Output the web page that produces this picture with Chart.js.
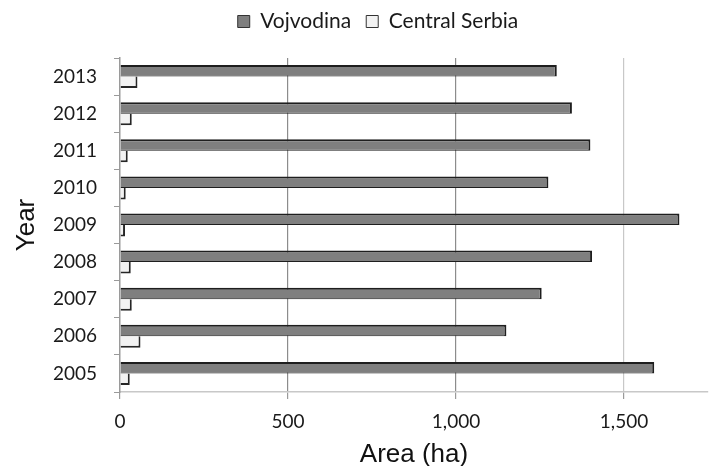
<!DOCTYPE html>
<html>
<head>
<meta charset="utf-8">
<script src="https://cdn.jsdelivr.net/npm/chart.js@4/dist/chart.umd.min.js"></script>
<style>
  html, body { margin: 0; padding: 0; background: #ffffff; }
  #wrap { width: 716px; height: 466px; position: relative; }
</style>
</head>
<body>
<div id="wrap"><canvas id="c" width="716" height="466"></canvas></div>
<script>
const years = ['2005', '2006', '2007', '2008', '2009', '2010', '2011', '2012', '2013'];
const vojvodina = [1590, 1150, 1255, 1405, 1665, 1275, 1400, 1345, 1300];
const centralSerbia = [29, 61, 35, 32, 15, 17, 23, 35, 52];
const xTickValues = [0, 500, 1000, 1500];
const seriesNames = ['Vojvodina', 'Central Serbia'];

const gridColors = { 0: 'rgba(0,0,0,0)', 500: '#8c8c8c', 1000: '#8c8c8c', 1500: '#c8c8c8' };

// Adds space below the legend and shifts it to match the layout
const legendTweak = {
  id: 'legendTweak',
  afterInit(chart) {
    const lg = chart.legend;
    if (lg && !lg._tweaked) {
      const origFit = lg.fit;
      lg.fit = function () { origFit.call(this); this.height += 12; };
      lg._tweaked = true;
    }
  },
  afterLayout(chart) {
    const lg = chart.legend;
    if (lg) { lg.left += 24; lg.right += 24; lg.top -= 4; lg.bottom -= 4; }
  }
};

new Chart(document.getElementById('c'), {
  type: 'bar',
  data: {
    labels: years,
    datasets: [
      {
        label: seriesNames[0],
        data: vojvodina,
        backgroundColor: '#7f7f7f',
        borderColor: '#1e1e1e',
        borderWidth: { top: 2, right: 2, bottom: 1, left: 0 },
        borderSkipped: false
      },
      {
        label: seriesNames[1],
        data: centralSerbia,
        backgroundColor: '#f2f2f2',
        borderColor: '#262626',
        borderWidth: { top: 0, right: 2, bottom: 2, left: 0 },
        borderSkipped: false
      }
    ]
  },
  plugins: [legendTweak],
  options: {
    indexAxis: 'y',
    responsive: false,
    animation: false,
    layout: { padding: { top: 0, right: 8, bottom: 0, left: 0 } },
    datasets: { bar: { categoryPercentage: 0.62, barPercentage: 1.0 } },
    plugins: {
      legend: {
        display: true,
        position: 'top',
        labels: {
          font: { family: 'Lato', size: 21 },
          color: '#1a1a1a',
          boxWidth: 12,
          boxHeight: 12,
          padding: 15,
          generateLabels: function (chart) {
            return chart.data.datasets.map((ds, i) => ({
              text: ds.label,
              fillStyle: ds.backgroundColor,
              strokeStyle: '#333333',
              lineWidth: 1,
              hidden: false,
              datasetIndex: i,
              fontColor: '#1a1a1a'
            }));
          }
        }
      },
      tooltip: { enabled: false }
    },
    scales: {
      x: {
        type: 'linear',
        min: 0,
        max: 1750,
        afterBuildTicks: function (scale) {
          scale.ticks = xTickValues.map(v => ({ value: v }));
        },
        afterFit: function (scale) { scale.height = 74; },
        ticks: {
          font: { family: 'Lato', size: 19 },
          color: '#1a1a1a',
          padding: 11,
          callback: function (v) { return Number(v).toLocaleString('en-US'); }
        },
        grid: {
          color: function (ctx) { return gridColors[ctx.tick ? ctx.tick.value : 0] || '#c8c8c8'; },
          lineWidth: 1.2,
          drawTicks: true,
          tickLength: 7,
          tickColor: '#9a9a9a'
        },
        border: { display: true, color: '#c8c8c8', width: 1.5 },
        title: {
          display: true,
          text: 'Area (ha)',
          font: { family: 'Liberation Sans', size: 26, lineHeight: 0.85 },
          color: '#111111',
          padding: { top: 0, bottom: 0 }
        }
      },
      y: {
        type: 'category',
        reverse: true,
        offset: true,
        afterFit: function (scale) { scale.width = 120; },
        ticks: {
          font: { family: 'Lato', size: 19 },
          color: '#1a1a1a',
          padding: 17
        },
        grid: {
          offset: true,
          drawOnChartArea: false,
          drawTicks: true,
          tickLength: 6,
          tickColor: '#9a9a9a',
          color: '#9a9a9a'
        },
        border: { display: true, color: '#9a9a9a', width: 1.5 },
        title: {
          display: true,
          text: 'Year',
          font: { family: 'Liberation Sans', size: 26 },
          color: '#111111',
          padding: { top: 11, bottom: 0 }
        }
      }
    }
  }
});
</script>
</body>
</html>
